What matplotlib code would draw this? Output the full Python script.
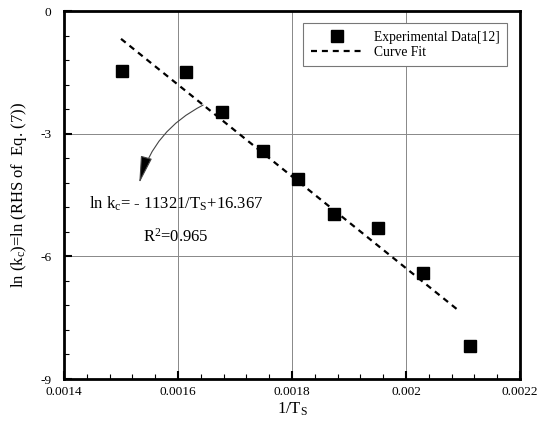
import matplotlib
matplotlib.use("Agg")
import matplotlib.pyplot as plt
from matplotlib.ticker import MultipleLocator

plt.rcParams['font.family'] = ['Liberation Serif', 'DejaVu Serif']
plt.rcParams['mathtext.fontset'] = 'custom'
plt.rcParams['mathtext.rm'] = 'Liberation Serif'
plt.rcParams['mathtext.it'] = 'Liberation Serif:italic'

# experimental points
inv_ts = [0.001502, 0.001614, 0.001677, 0.001749, 0.001811,
          0.001874, 0.001951, 0.002030, 0.002112]
ln_kc = [-1.47, -1.49, -2.47, -3.42, -4.11, -4.96, -5.31, -6.41, -8.19]

# curve fit end points
fit_x = [0.0015, 0.002091]
fit_y = [-0.68, -7.31]

xticks = [0.0014, 0.0016, 0.0018, 0.002, 0.0022]
xlabels = ["0.0014", "0.0016", "0.0018", "0.002", "0.0022"]
yticks = [0, -3, -6, -9]
ylabels = ["0", "-3", "-6", "-9"]

fig = plt.figure(figsize=(5.5, 4.26), dpi=100)
ax = fig.add_axes([0.1164, 0.1103, 0.829, 0.8638])

ax.plot(inv_ts, ln_kc, 's', color='black', ms=8.3, label='Experimental Data[12]')
ax.plot(fit_x, fit_y, color='black', lw=1.6, dashes=(2.7, 2.2), label='Curve Fit')

ax.set_xlim(0.0014, 0.0022)
ax.set_ylim(-9, 0)
ax.set_xticks(xticks)
ax.set_xticklabels(xlabels)
ax.set_yticks(yticks)
ax.set_yticklabels(ylabels)
ax.xaxis.set_minor_locator(MultipleLocator(0.00004))
ax.yaxis.set_minor_locator(MultipleLocator(0.6))
ax.tick_params(which='both', direction='in', labelsize=9.6)
ax.tick_params(which='major', length=6, width=1.5, pad=5)
ax.tick_params(which='minor', length=3.5, width=0.8)
ax.tick_params(axis='y', pad=9)
ax.grid(True, which='major', color='#888888', lw=0.7)
for s in ax.spines.values():
    s.set_linewidth(2)

ax.set_xlabel(r"1/T$_\mathrm{S}$", fontsize=12, labelpad=2)
ax.set_ylabel(r"ln (k$_\mathrm{c}$)=ln (RHS of  Eq. (7))", fontsize=12, labelpad=8)

leg = ax.legend(loc='upper right', bbox_to_anchor=(0.971, 0.967), fancybox=False,
                edgecolor='#777777', fontsize=9.8, handlelength=3.8,
                handletextpad=0.8, borderpad=0.55, labelspacing=0.15,
                borderaxespad=0, markerfirst=True, framealpha=1)
leg.get_frame().set_linewidth(0.8)

ax.annotate("", xy=(0.001532, -4.21), xytext=(0.001644, -2.30),
            arrowprops=dict(arrowstyle='-|>,head_length=1.7,head_width=0.36',
                            mutation_scale=10, color='#555555', lw=0.8,
                            connectionstyle='arc3,rad=0.22',
                            shrinkA=0, shrinkB=0, fc='black', ec='#444444'))
ax.text(0.001596, -4.72, r"ln k$_\mathrm{c}$= - 11321/T$_\mathrm{S}$+16.367",
        ha='center', va='center', fontsize=12)
ax.text(0.001596, -5.52, r"R$^\mathrm{2}$=0.965", ha='center', va='center', fontsize=12)

fig.savefig("out.png", dpi=100)
